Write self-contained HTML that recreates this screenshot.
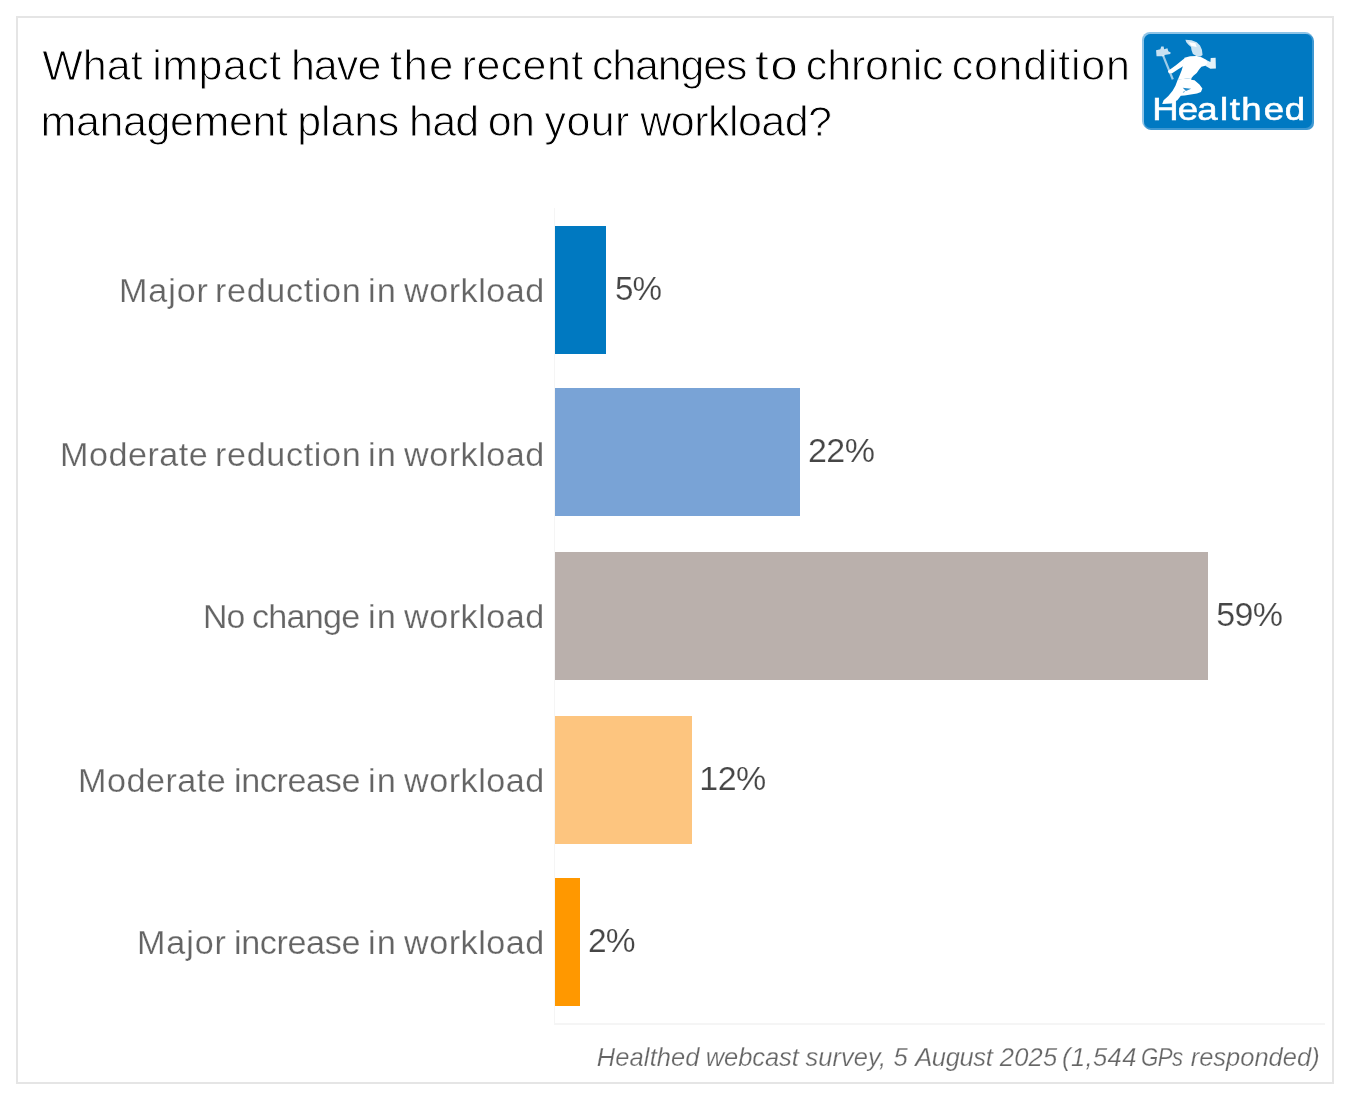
<!DOCTYPE html>
<html lang="en">
<head>
<meta charset="utf-8">
<title>What impact have the recent changes to chronic condition management plans had on your workload?</title>
<style>
html,body{margin:0;padding:0;background:#fff;}
body{width:1350px;height:1100px;position:relative;overflow:hidden;font-family:"Liberation Sans",Arial,sans-serif;}
.frame{position:absolute;left:16px;top:16px;width:1314px;height:1064px;border:2px solid #e5e5e5;background:#fff;}
.w{position:absolute;white-space:pre;line-height:1;transform-origin:0 0;}
.title{font-size:43px;color:#000;margin:0;font-weight:normal;}
.title .w{font-size:43px;-webkit-text-stroke:0.95px #fff;}
.label{font-size:33.5px;color:#646464;-webkit-text-stroke:0.25px #fff;}
.value{font-size:34px;color:#464646;-webkit-text-stroke:0.2px #fff;}
.footer{font-size:25.5px;color:#666;font-style:italic;-webkit-text-stroke:0.25px #fff;}
.bar{position:absolute;left:555px;}
.axis-y{position:absolute;left:554px;top:208px;width:1px;height:816px;background:#f5f5f5;}
.axis-x{position:absolute;left:554px;top:1023px;width:771px;height:2px;background:#f5f5f5;}
.logo{position:absolute;left:1142px;top:32px;width:172px;height:98px;}
</style>
</head>
<body>
<div class="frame"></div>

<h1 class="title">
<span class="w" style="left:42.19px;top:44.09px;letter-spacing:0.061px;">What</span>
<span class="w" style="left:152.30px;top:44.09px;letter-spacing:0.437px;">impact</span>
<span class="w" style="left:290.90px;top:44.09px;letter-spacing:-0.937px;">have</span>
<span class="w" style="left:390.02px;top:44.09px;letter-spacing:1.290px;transform:scaleX(1.0175);">the</span>
<span class="w" style="left:461.72px;top:44.09px;letter-spacing:0.380px;">recent</span>
<span class="w" style="left:591.66px;top:44.09px;letter-spacing:-1.075px;transform:scaleX(0.9947);">changes</span>
<span class="w" style="left:755.13px;top:44.09px;letter-spacing:1.326px;transform:scaleX(1.1500);">to</span>
<span class="w" style="left:805.85px;top:44.09px;letter-spacing:-0.153px;">chronic</span>
<span class="w" style="left:951.65px;top:44.09px;letter-spacing:0.767px;">condition</span>
<span class="w" style="left:40.62px;top:100.09px;letter-spacing:-0.409px;">management</span>
<span class="w" style="left:297.31px;top:100.09px;letter-spacing:-0.183px;">plans</span>
<span class="w" style="left:409.10px;top:100.09px;letter-spacing:-0.825px;">had</span>
<span class="w" style="left:487.77px;top:100.09px;letter-spacing:-0.691px;">on</span>
<span class="w" style="left:544.48px;top:100.09px;letter-spacing:0.437px;">your</span>
<span class="w" style="left:640.34px;top:100.09px;letter-spacing:-0.541px;">workload?</span>
</h1>
<svg class="logo" viewBox="1142 32 172 98" width="172" height="98" role="img" aria-label="Healthed logo">
<defs><filter id="soft" x="-5%" y="-5%" width="110%" height="110%"><feGaussianBlur stdDeviation="0.5"/></filter></defs>
<rect x="1142" y="32" width="171" height="97" rx="8" ry="8" fill="#8fc4e6"/>
<rect x="1144" y="34" width="170" height="96" rx="7" ry="7" fill="#3f98d2"/>
<rect x="1144" y="34" width="168" height="94" rx="6.5" ry="6.5" fill="#0079c2"/>
<g filter="url(#soft)" fill="#fff">
<g transform="translate(1140 28) scale(0.09452)">
<!-- helmet and head -->
<path d="M480 125 L545 130 L600 150 L635 185 L655 230 L662 285 L640 302 L600 298 L560 275 L545 235 L540 200 L510 175 L490 150 Z" fill-opacity="0.8"/>
<path d="M515 150 L585 158 L600 200 L545 190 Z"/>
<!-- torso -->
<path d="M470 315 L530 300 L600 295 L650 310 L700 335 L715 370 L690 400 L650 410 L625 440 L600 475 L565 505 L545 530 L480 538 L400 548 L420 500 L440 450 L455 400 L460 350 Z"/>
<!-- left arm -->
<path d="M465 325 L465 400 L400 440 L340 478 L305 480 L295 455 L380 395 Z"/>
<!-- right arm and fist -->
<path d="M695 335 L745 360 L748 318 L800 315 L803 428 L745 432 L690 400 Z" fill-opacity="0.9"/>
<!-- caduceus -->
<path d="M170 235 L215 225 L225 195 L250 195 L255 225 L290 215 L300 245 L325 260 L320 275 L260 285 L255 300 L175 300 Z" fill-opacity="0.78"/>
<path d="M232 292 L256 288 L358 540 L336 548 Z" fill-opacity="0.62"/>
<!-- hips and left leg -->
<path d="M400 545 L545 530 L540 560 L500 610 L470 660 L430 720 L395 765 L330 800 L235 805 L250 765 L300 720 L345 665 L375 610 Z"/>
<!-- right leg -->
<path d="M498 542 L577 552 L629 598 L660 640 L645 676 L603 693 L472 714 L433 716 L426 693 L472 676 L446 608 Z"/>
<path d="M452 632 L541 642 L486 667 Z" fill="#0079c2" fill-opacity="0.85"/>
</g>
<text transform="scale(1.18 1)" x="976.38 998.02 1014.53 1033.84 1042.18 1051.99 1070.90 1088.68" y="119.7" font-family="'Liberation Sans',Arial,sans-serif" font-weight="normal" stroke="#fff" stroke-width="0.6" font-size="31">Healthed</text>
</g>
</svg>

<div class="chart">
<div class="axis-y"></div><div class="axis-x"></div>
<div class="row">
<div class="label"><span class="w" style="left:118.88px;top:274.14px;letter-spacing:0.850px;transform:scaleX(1.0200);">Major</span>
<span class="w" style="left:214.61px;top:274.14px;letter-spacing:0.632px;transform:scaleX(1.0200);">reduction</span>
<span class="w" style="left:367.58px;top:274.14px;letter-spacing:1.005px;transform:scaleX(1.0255);">in</span>
<span class="w" style="left:403.63px;top:274.14px;letter-spacing:0.497px;transform:scaleX(1.0200);">workload</span></div>
<div class="bar" style="top:226px;height:128px;width:51px;background:#0079c1"></div>
<div class="value"><span class="w" style="left:614.57px;top:270.81px;letter-spacing:-0.850px;transform:scaleX(0.9756);">5%</span></div>
</div>
<div class="row">
<div class="label"><span class="w" style="left:59.98px;top:438.14px;letter-spacing:0.477px;transform:scaleX(1.0200);">Moderate</span>
<span class="w" style="left:214.61px;top:438.14px;letter-spacing:0.632px;transform:scaleX(1.0200);">reduction</span>
<span class="w" style="left:367.58px;top:438.14px;letter-spacing:1.005px;transform:scaleX(1.0255);">in</span>
<span class="w" style="left:403.63px;top:438.14px;letter-spacing:0.497px;transform:scaleX(1.0200);">workload</span></div>
<div class="bar" style="top:388px;height:128px;width:245px;background:#79a3d6"></div>
<div class="value"><span class="w" style="left:808.04px;top:432.81px;letter-spacing:-0.589px;">22%</span></div>
</div>
<div class="row">
<div class="label"><span class="w" style="left:203.10px;top:600.14px;letter-spacing:-0.837px;transform:scaleX(1.0108);">No</span>
<span class="w" style="left:251.73px;top:600.14px;letter-spacing:-0.744px;transform:scaleX(1.0200);">change</span>
<span class="w" style="left:367.58px;top:600.14px;letter-spacing:1.005px;transform:scaleX(1.0255);">in</span>
<span class="w" style="left:403.63px;top:600.14px;letter-spacing:0.497px;transform:scaleX(1.0200);">workload</span></div>
<div class="bar" style="top:552px;height:128px;width:653px;background:#bab0ac"></div>
<div class="value"><span class="w" style="left:1216.24px;top:596.81px;letter-spacing:-0.688px;">59%</span></div>
</div>
<div class="row">
<div class="label"><span class="w" style="left:78.08px;top:764.14px;letter-spacing:0.491px;transform:scaleX(1.0200);">Moderate</span>
<span class="w" style="left:233.59px;top:764.14px;letter-spacing:-0.380px;transform:scaleX(1.0200);">increase</span>
<span class="w" style="left:367.58px;top:764.14px;letter-spacing:1.005px;transform:scaleX(1.0255);">in</span>
<span class="w" style="left:403.63px;top:764.14px;letter-spacing:0.497px;transform:scaleX(1.0200);">workload</span></div>
<div class="bar" style="top:716px;height:128px;width:137px;background:#fdc57f"></div>
<div class="value"><span class="w" style="left:699.31px;top:760.81px;letter-spacing:-0.524px;">12%</span></div>
</div>
<div class="row">
<div class="label"><span class="w" style="left:137.08px;top:926.14px;letter-spacing:0.850px;transform:scaleX(1.0200);">Major</span>
<span class="w" style="left:233.59px;top:926.14px;letter-spacing:-0.380px;transform:scaleX(1.0200);">increase</span>
<span class="w" style="left:367.58px;top:926.14px;letter-spacing:1.005px;transform:scaleX(1.0255);">in</span>
<span class="w" style="left:403.63px;top:926.14px;letter-spacing:0.497px;transform:scaleX(1.0200);">workload</span></div>
<div class="bar" style="top:878px;height:128px;width:25px;background:#ff9800"></div>
<div class="value"><span class="w" style="left:588.06px;top:922.81px;letter-spacing:-0.850px;transform:scaleX(0.9864);">2%</span></div>
</div>
</div>
<div class="footer"><span class="w" style="left:596.80px;top:1044.91px;letter-spacing:0.097px;">Healthed</span>
<span class="w" style="left:705.71px;top:1044.91px;letter-spacing:-0.087px;">webcast</span>
<span class="w" style="left:805.52px;top:1044.91px;letter-spacing:0.029px;">survey,</span>
<span class="w" style="left:893.61px;top:1044.91px;letter-spacing:0.000px;">5</span>
<span class="w" style="left:915.24px;top:1044.91px;letter-spacing:-0.378px;">August</span>
<span class="w" style="left:999.83px;top:1044.91px;letter-spacing:0.200px;">2025</span>
<span class="w" style="left:1062.08px;top:1044.91px;letter-spacing:0.398px;">(1,544</span>
<span class="w" style="left:1141.48px;top:1044.91px;letter-spacing:-0.638px;transform:scaleX(0.8711);">GPs</span>
<span class="w" style="left:1190.66px;top:1044.91px;letter-spacing:-0.003px;">responded)</span></div>
</body>
</html>
